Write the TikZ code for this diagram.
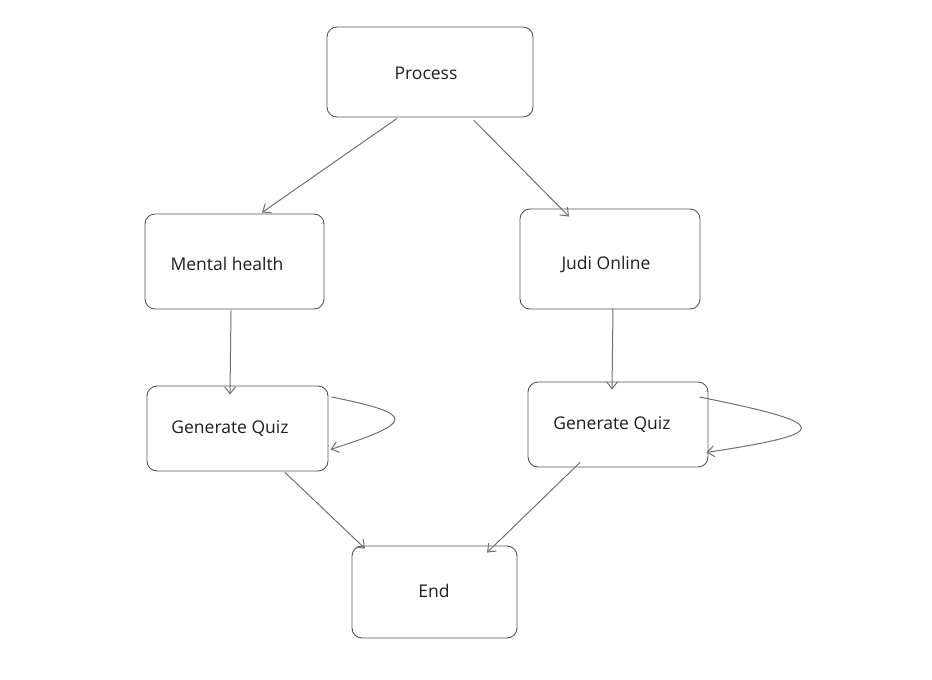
\documentclass[tikz,border=0pt]{standalone}
\usepackage{fontspec}
\setmainfont{Open Sans}
\usetikzlibrary{arrows.meta}
\definecolor{boxline}{HTML}{555555}
\definecolor{arrline}{HTML}{707070}
\definecolor{txt}{HTML}{1E1E1E}
\tikzset{
  box/.style={draw=boxline, line width=0.9pt, rounded corners=10pt, inner sep=0pt},
  lbl/.style={text=txt, font=\fontsize{17.5}{20}\selectfont, inner sep=0pt},
  conn/.style={draw=arrline, line width=1pt, -{Straight Barb[length=7pt,width=11pt]}},
}
\begin{document}
\begin{tikzpicture}[x=1pt,y=-1pt]
\useasboundingbox (0,0) rectangle (932,680);
\node[box, minimum width=206pt, minimum height=90pt] (p) at (430,72) {};
\node[box, minimum width=179pt, minimum height=95pt] (m) at (234.5,261.5) {};
\node[box, minimum width=180pt, minimum height=100pt] (j) at (610,259) {};
\node[box, minimum width=181pt, minimum height=85pt] (gl) at (237.5,428.5) {};
\node[box, minimum width=180pt, minimum height=85pt] (gr) at (618,424.5) {};
\node[box, minimum width=165pt, minimum height=92pt] (e) at (434.5,592) {};
\node[lbl] (pt) at (426,73) {Process};
\node[lbl] (mt) at (227,264) {Mental health};
\node[lbl] (jt) at (606,264) {Judi Online};
\node[lbl] (glt) at (230,429) {Generate Quiz};
\node[lbl] (grt) at (612,425) {Generate Quiz};
\node[lbl] (et) at (434,591) {End};

\draw[conn] ([xshift=-33pt,yshift=-1pt]p.south) -- ([xshift=27.5pt,yshift=1pt]m.north);
\draw[conn] ([xshift=44pt,yshift=-3pt]p.south) -- ([xshift=-41pt,yshift=-8pt]j.north);
\draw[conn] ([xshift=-3.5pt,yshift=-1pt]m.south) -- ([xshift=-7.5pt,yshift=-9pt]gl.north);
\draw[conn] ([xshift=3pt,yshift=1pt]j.south) -- ([xshift=-6pt,yshift=-8pt]gr.north);
\draw[conn] ([xshift=3pt,yshift=31.5pt]gl.east) .. controls (416,414) and (416,422) .. ([xshift=2pt,yshift=22pt]gl.south east);
\draw[conn] ([xshift=-9pt,yshift=27.5pt]gr.east) .. controls (834,424) and (834,433) .. ([xshift=-2pt,yshift=15pt]gr.south east);
\draw[conn] ([xshift=47.5pt,yshift=-1pt]gl.south) -- ([xshift=-69.5pt,yshift=-3pt]e.north);
\draw[conn] ([xshift=-38pt,yshift=5pt]gr.south) -- ([xshift=52.5pt,yshift=-7pt]e.north);
\end{tikzpicture}
\end{document}
